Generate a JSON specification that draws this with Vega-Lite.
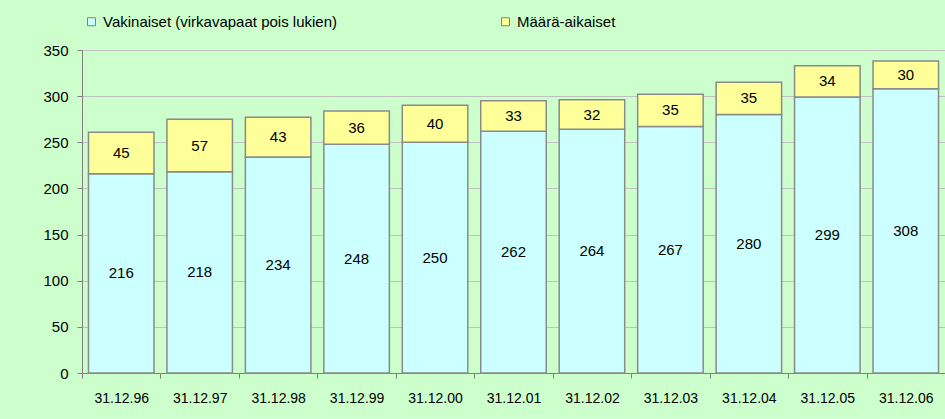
{
  "$schema": "https://vega.github.io/schema/vega-lite/v6.json",
  "width": 863,
  "height": 323,
  "autosize": {"type": "none"},
  "padding": {"left": 82, "top": 50, "right": 0, "bottom": 46},
  "background": "#ccffcc",
  "config": {"view": {"stroke": null}, "font": "Liberation Sans"},
  "data": {"values": [
    {"paiva": "31.12.96", "sarja": "Vakinaiset (virkavapaat pois lukien)", "arvo": 216},
    {"paiva": "31.12.96", "sarja": "Määrä-aikaiset", "arvo": 45},
    {"paiva": "31.12.97", "sarja": "Vakinaiset (virkavapaat pois lukien)", "arvo": 218},
    {"paiva": "31.12.97", "sarja": "Määrä-aikaiset", "arvo": 57},
    {"paiva": "31.12.98", "sarja": "Vakinaiset (virkavapaat pois lukien)", "arvo": 234},
    {"paiva": "31.12.98", "sarja": "Määrä-aikaiset", "arvo": 43},
    {"paiva": "31.12.99", "sarja": "Vakinaiset (virkavapaat pois lukien)", "arvo": 248},
    {"paiva": "31.12.99", "sarja": "Määrä-aikaiset", "arvo": 36},
    {"paiva": "31.12.00", "sarja": "Vakinaiset (virkavapaat pois lukien)", "arvo": 250},
    {"paiva": "31.12.00", "sarja": "Määrä-aikaiset", "arvo": 40},
    {"paiva": "31.12.01", "sarja": "Vakinaiset (virkavapaat pois lukien)", "arvo": 262},
    {"paiva": "31.12.01", "sarja": "Määrä-aikaiset", "arvo": 33},
    {"paiva": "31.12.02", "sarja": "Vakinaiset (virkavapaat pois lukien)", "arvo": 264},
    {"paiva": "31.12.02", "sarja": "Määrä-aikaiset", "arvo": 32},
    {"paiva": "31.12.03", "sarja": "Vakinaiset (virkavapaat pois lukien)", "arvo": 267},
    {"paiva": "31.12.03", "sarja": "Määrä-aikaiset", "arvo": 35},
    {"paiva": "31.12.04", "sarja": "Vakinaiset (virkavapaat pois lukien)", "arvo": 280},
    {"paiva": "31.12.04", "sarja": "Määrä-aikaiset", "arvo": 35},
    {"paiva": "31.12.05", "sarja": "Vakinaiset (virkavapaat pois lukien)", "arvo": 299},
    {"paiva": "31.12.05", "sarja": "Määrä-aikaiset", "arvo": 34},
    {"paiva": "31.12.06", "sarja": "Vakinaiset (virkavapaat pois lukien)", "arvo": 308},
    {"paiva": "31.12.06", "sarja": "Määrä-aikaiset", "arvo": 30}
  ]},
  "encoding": {
    "x": {
      "field": "paiva", "type": "ordinal", "sort": null,
      "scale": {"paddingInner": 0, "paddingOuter": 0},
      "axis": {
        "title": null, "labelAngle": 0, "tickBand": "extent",
        "labelFontSize": 14, "labelColor": "#000000", "labelPadding": 13,
        "tickSize": 5, "tickColor": "#808080", "domainColor": "#808080", "grid": false
      }
    }
  },
  "layer": [
    {
      "mark": {"type": "bar", "width": {"band": 0.835}, "stroke": "#8a8a8a", "strokeWidth": 1.5},
      "encoding": {
        "y": {
          "field": "arvo", "type": "quantitative", "stack": "zero",
          "scale": {"domain": [0, 350], "nice": false},
          "axis": {
            "title": null, "values": [0, 50, 100, 150, 200, 250, 300, 350],
            "labelFontSize": 15, "labelColor": "#000000", "labelPadding": 9,
            "tickSize": 5, "tickColor": "#808080", "domainColor": "#808080",
            "gridColor": "#c0c0c0"
          }
        },
        "color": {
          "field": "sarja", "type": "nominal",
          "scale": {"domain": ["Vakinaiset (virkavapaat pois lukien)", "Määrä-aikaiset"], "range": ["#ccffff", "#ffff99"]},
          "legend": {
            "title": null, "orient": "none", "legendX": 2, "legendY": -36,
            "direction": "horizontal", "symbolType": "square", "symbolSize": 64,
            "symbolStrokeColor": "#808080", "symbolStrokeWidth": 1,
            "labelFontSize": 15, "labelColor": "#000000", "labelLimit": 500,
            "columnPadding": 160, "padding": 0
          }
        },
        "order": {"field": "sarja", "sort": "descending"}
      }
    },
    {
      "mark": {"type": "text", "fontSize": 15, "color": "#000000"},
      "encoding": {
        "y": {"field": "arvo", "type": "quantitative", "stack": "zero", "bandPosition": 0.5},
        "detail": {"field": "sarja"},
        "order": {"field": "sarja", "sort": "descending"},
        "text": {"field": "arvo", "type": "quantitative"}
      }
    }
  ]
}
